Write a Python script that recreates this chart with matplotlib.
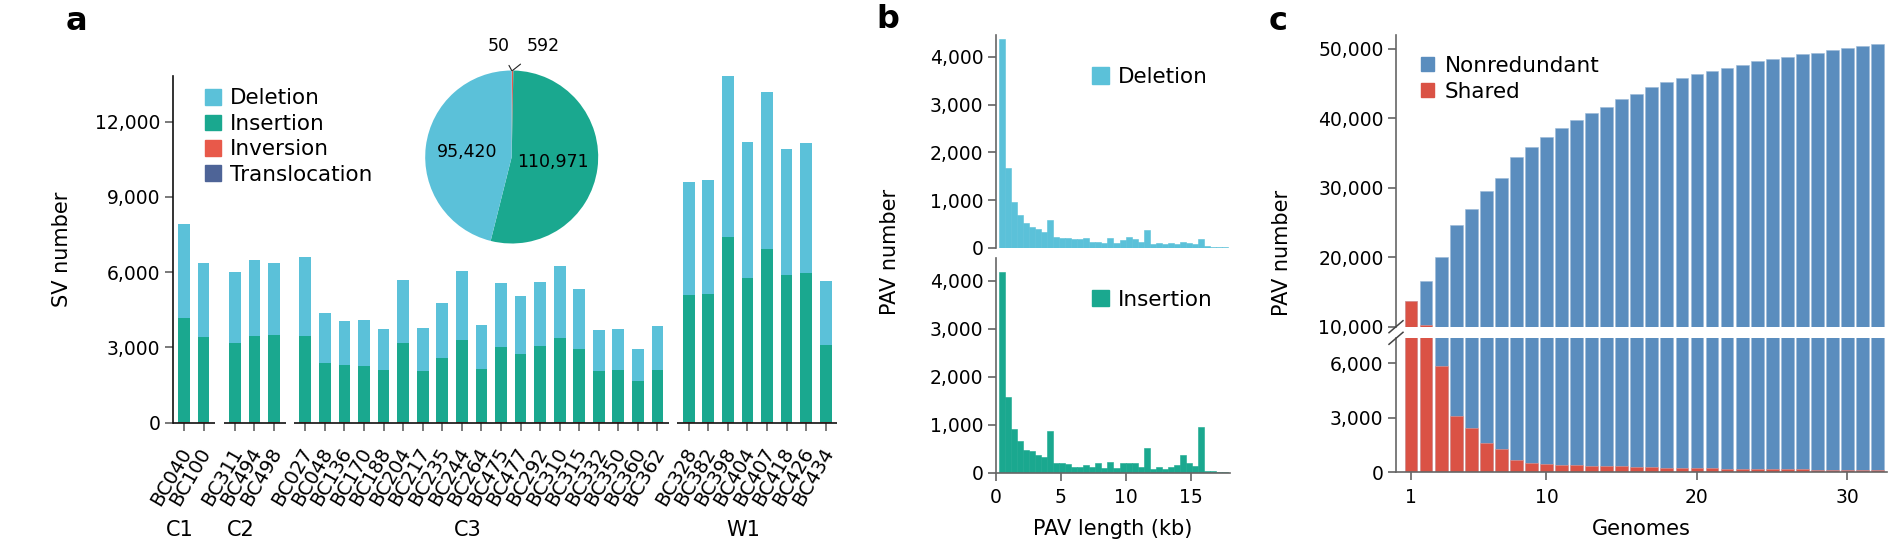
import numpy as np
import matplotlib
matplotlib.use("Agg")
import matplotlib.pyplot as plt
from matplotlib.patches import Patch
from matplotlib.ticker import FuncFormatter
import matplotlib.transforms as mtransforms
from matplotlib.lines import Line2D

plt.rcParams['font.family'] = ['DejaVu Sans']

# ---------------- data: panel a ----------------
group_names = ['C1', 'C2', 'C3', 'W1']
group_sizes = [2, 3, 19, 8]
samples = ['BC040', 'BC100',
           'BC311', 'BC494', 'BC498',
           'BC027', 'BC048', 'BC136', 'BC170', 'BC188', 'BC204', 'BC217', 'BC235',
           'BC244', 'BC264', 'BC475', 'BC477', 'BC292', 'BC310', 'BC315', 'BC332',
           'BC350', 'BC360', 'BC362',
           'BC328', 'BC382', 'BC398', 'BC404', 'BC407', 'BC418', 'BC426', 'BC434']
insertion = [4168, 3372, 3173, 3451, 3491, 3451, 2389, 2283, 2217, 2097, 3146, 2071,
             2575, 3265, 2150, 3000, 2735, 3000, 3332, 2907, 2058, 2084, 1659, 2097,
             5058, 5097, 7394, 5735, 6903, 5881, 5934, 3093]
deletion = [3730, 2947, 2827, 3027, 2867, 3146, 1978, 1766, 1818, 1620, 2535, 1699,
            2190, 2775, 1739, 2562, 2309, 2562, 2867, 2376, 1632, 1646, 1275, 1753,
            4486, 4567, 6440, 5442, 6265, 5017, 5190, 2535]
inversion = [10, 45, 15, 10, 8, 10, 8, 8, 45, 10, 10, 8, 12, 10, 8, 10, 12, 45, 45,
             45, 8, 10, 8, 10, 45, 12, 15, 15, 12, 12, 15, 10]
translocation = [2, 1, 2, 1, 1, 2, 1, 1, 2, 1, 2, 1, 1, 2, 1, 2, 1, 2, 2, 1, 1, 2, 1,
                 2, 2, 2, 3, 2, 2, 2, 3, 2]
sv_types = ['Deletion', 'Insertion', 'Inversion', 'Translocation']
pie_types = ['Inversion', 'Translocation', 'Insertion', 'Deletion']
pie_values = [592, 50, 110971, 95420]

# ---------------- data: panel b ----------------
pav_bin_edges_kb = np.linspace(0.2, 17.87, 39)
deletion_counts = [4376, 1677, 951, 676, 514, 444, 402, 332, 571, 218,
                   203, 210, 180, 180, 203, 113, 128, 105, 210, 105,
                   165, 218, 180, 120, 368, 75, 105, 68, 90, 68,
                   113, 90, 68, 180, 30, 10, 8, 5]
insertion_counts = [4180, 1582, 913, 669, 464, 442, 375, 337, 878, 195,
                    195, 180, 112, 127, 165, 112, 202, 90, 225, 90,
                    202, 202, 202, 127, 517, 67, 127, 67, 112, 165,
                    367, 195, 150, 955, 37, 30, 15, 15]

# ---------------- data: panel c ----------------
genomes = list(range(1, 33))
nonredundant = [13700, 16628, 20038, 24650, 26955, 29548, 31422, 34448, 35889, 37330,
                38626, 39779, 40788, 41652, 42805, 43525, 44534, 45254, 45830, 46407,
                46840, 47272, 47704, 48280, 48568, 48856, 49300, 49460, 49870, 50180,
                50440, 50750]
shared = [13700, 10240, 5872, 3119, 2459, 1615, 1284, 679, 532, 459,
          422, 404, 367, 330, 320, 294, 275, 257, 239, 230,
          220, 202, 183, 180, 165, 160, 155, 150, 145, 140, 135, 130]

# ---------------- style ----------------
C_DEL = '#5bc1d9'
C_INS = '#1aa88f'
C_INV = '#e8594a'
C_TRA = '#4e6497'
C_NR = '#5a8dbe'
C_SH = '#da5245'
type_colors = {'Deletion': C_DEL, 'Insertion': C_INS, 'Inversion': C_INV,
               'Translocation': C_TRA}

W, H = 1900, 560
fig = plt.figure(figsize=(W / 100, H / 100), dpi=100)


def px_axes(l, t, r, b):
    return fig.add_axes([l / W, 1 - b / H, (r - l) / W, (b - t) / H])


TICK_FS = 13.5
LEG_FS = 15.5
LAB_FS = 15
comma = FuncFormatter(lambda v, p: f'{v:,.0f}')


def style_axis(ax, color='#333333'):
    for s in ['top', 'right']:
        ax.spines[s].set_visible(False)
    for s in ['left', 'bottom']:
        ax.spines[s].set_color(color)
        ax.spines[s].set_linewidth(1.2)
    ax.tick_params(length=6, width=1.1, color='#555555', labelsize=TICK_FS, pad=3)


# ================= panel a =================
axa = px_axes(172.7, 76, 836.7, 422.7)
style_axis(axa, '#111111')
positions = []
pos = 0.0
for gi, n in enumerate(group_sizes):
    for k in range(n):
        positions.append(pos)
        pos += 1.0
    pos += 0.6
positions = np.array(positions)

bw = 0.6
b0 = np.zeros(len(samples))
stack = [('Translocation', translocation), ('Inversion', inversion),
         ('Insertion', insertion), ('Deletion', deletion)]
for name, vals in stack:
    axa.bar(positions, vals, bw, bottom=b0, color=type_colors[name], linewidth=0)
    b0 = b0 + np.array(vals)

axa.set_xlim(-0.58, 33.36)
axa.set_ylim(0, 13820)
axa.set_yticks([0, 3000, 6000, 9000, 12000])
axa.yaxis.set_major_formatter(comma)
axa.spines['bottom'].set_visible(False)
axa.set_xticks(positions)
axa.set_xticklabels(samples, rotation=60, ha='right', va='center',
                    rotation_mode='anchor', fontsize=14)
axa.tick_params(axis='x', pad=13)
for lab in axa.get_xticklabels():
    lab.set_transform(lab.get_transform() +
                      mtransforms.ScaledTranslation(3 / 100, 0, fig.dpi_scale_trans))
axa.set_ylabel('SV number', fontsize=LAB_FS)
axa.yaxis.set_label_coords(-0.152, 0.5)

# group baseline segments and labels
start = 0
for gname, n in zip(group_names, group_sizes):
    gp = positions[start:start + n]
    axa.plot([gp[0] - 0.58, gp[-1] + 0.6], [0, 0], color='#111111', lw=1.2,
             clip_on=False, solid_capstyle='butt')
    tr = mtransforms.blended_transform_factory(axa.transData, axa.transAxes)
    axa.text(gp.mean() - 0.7, -0.31, gname, transform=tr, ha='center', va='center',
             fontsize=15)
    start += n

leg_a = axa.legend(handles=[Patch(color=type_colors[t], label=t) for t in sv_types],
                   loc='upper left', bbox_to_anchor=(205 / W, 1 - 88.5 / H),
                   bbox_transform=fig.transFigure, frameon=False, fontsize=LEG_FS,
                   handlelength=0.74, handleheight=0.74, handletextpad=0.42,
                   labelspacing=0.25, borderpad=0, borderaxespad=0)

# pie inset
axp = px_axes(425.2, 70.5, 598.2, 243.5)
axp.pie(pie_values, colors=[type_colors[t] for t in pie_types], startangle=90,
        counterclock=False, radius=1, wedgeprops=dict(linewidth=0))
axp.set_xlim(-1, 1)
axp.set_ylim(-1, 1)
axp.set_aspect('auto')
axp.axis('off')
axp.text(-0.52, 0.06, f'{pie_values[3]:,}', ha='center', va='center', fontsize=12.5)
axp.text(0.48, -0.055, f'{pie_values[2]:,}', ha='center', va='center', fontsize=12.5)
axp.annotate(f'{pie_values[1]:,}', xy=(0.0, 1.0), xytext=(-0.15, 1.28),
             ha='center', va='center', fontsize=12.5, annotation_clip=False,
             arrowprops=dict(arrowstyle='-', lw=0.8, color='#222222',
                             shrinkA=6, shrinkB=0))
axp.annotate(f'{pie_values[0]:,}', xy=(0.01, 1.0), xytext=(0.36, 1.28),
             ha='center', va='center', fontsize=12.5, annotation_clip=False,
             arrowprops=dict(arrowstyle='-', lw=0.8, color='#222222',
                             shrinkA=7, shrinkB=0))

# ================= panel b =================
axb1 = px_axes(996, 34.5, 1230, 247.7)
axb2 = px_axes(996, 258.3, 1230, 472.7)
widths = np.diff(pav_bin_edges_kb)
for ax, counts, col, lab in [(axb1, deletion_counts, C_DEL, 'Deletion'),
                              (axb2, insertion_counts, C_INS, 'Insertion')]:
    style_axis(ax, '#666666')
    ax.bar(pav_bin_edges_kb[:-1], counts, widths, align='edge', color=col,
           edgecolor=col, linewidth=0.4)
    ax.set_xlim(0, 18)
    ax.set_ylim(0, 4470)
    ax.set_yticks([0, 1000, 2000, 3000, 4000])
    ax.yaxis.set_major_formatter(comma)
    ax.legend(handles=[Patch(color=col, label=lab)], loc='center left',
              bbox_to_anchor=(1091.7 / W, 0), bbox_transform=fig.transFigure,
              frameon=False, fontsize=LEG_FS, handlelength=0.79, handleheight=0.79,
              handletextpad=0.43, borderpad=0, borderaxespad=0)
# place legends vertically
axb1.get_legend().set_bbox_to_anchor((1091.7 / W, 1 - 77 / H), fig.transFigure)
axb2.get_legend().set_bbox_to_anchor((1091.7 / W, 1 - 299.7 / H), fig.transFigure)
axb1.spines['bottom'].set_visible(False)
axb1.tick_params(axis='x', bottom=False, labelbottom=False)
axb2.set_xticks([0, 5, 10, 15])
axb2.tick_params(axis='x', pad=5)
axb2.set_xlabel('PAV length (kb)', fontsize=LAB_FS, labelpad=9)
fig.text(890 / W, 1 - 252 / H, 'PAV number', rotation=90, ha='center', va='center',
         fontsize=LAB_FS)

# ================= panel c =================
axc1 = px_axes(1396, 35, 1886.6, 326.7)
axc2 = px_axes(1396, 338.3, 1886.6, 472.3)
for ax in (axc1, axc2):
    style_axis(ax, '#666666')
    ax.bar(genomes, nonredundant, 0.85, color=C_NR, edgecolor='#9bbad8', linewidth=0.4)
    ax.bar(genomes, shared, 0.85, color=C_SH, edgecolor='#e89a92', linewidth=0.4)
    ax.set_xlim(0, 32.6)
axc1.set_ylim(10000, 52000)
axc1.set_yticks([10000, 20000, 30000, 40000, 50000])
axc1.yaxis.set_major_formatter(comma)
axc1.spines['bottom'].set_visible(False)
axc1.tick_params(axis='x', bottom=False, labelbottom=False)
axc2.set_ylim(0, 7380)
axc2.set_yticks([0, 3000, 6000])
axc2.yaxis.set_major_formatter(comma)
axc2.set_xticks([1, 10, 20, 30])
axc2.tick_params(axis='x', pad=5)
axc2.set_xlabel('Genomes', fontsize=LAB_FS, labelpad=9)
fig.text(1281.7 / W, 1 - 252.5 / H, 'PAV number', rotation=90, ha='center',
         va='center', fontsize=LAB_FS)
axc1.legend(handles=[Patch(color=C_NR, label='Nonredundant'),
                     Patch(color=C_SH, label='Shared')],
            loc='upper left', bbox_to_anchor=(1421 / W, 1 - 55.5 / H),
            bbox_transform=fig.transFigure, frameon=False, fontsize=LEG_FS,
            handlelength=0.62, handleheight=0.65, handletextpad=0.5,
            labelspacing=0.28, borderpad=0, borderaxespad=0)
# break marks
for yb in (326.7, 338.3):
    fig.add_artist(Line2D([(1396 - 7) / W, (1396 + 7) / W],
                          [1 - (yb + 6) / H, 1 - (yb - 6) / H],
                          color='#444444', lw=1.1))

# panel letters
for letter, (x, y) in {'a': (76, 22), 'b': (888, 20), 'c': (1278, 22)}.items():
    fig.text(x / W, 1 - y / H, letter, fontsize=23, fontweight='heavy',
             ha='center', va='center')

fig.savefig('out.png', dpi=100)
